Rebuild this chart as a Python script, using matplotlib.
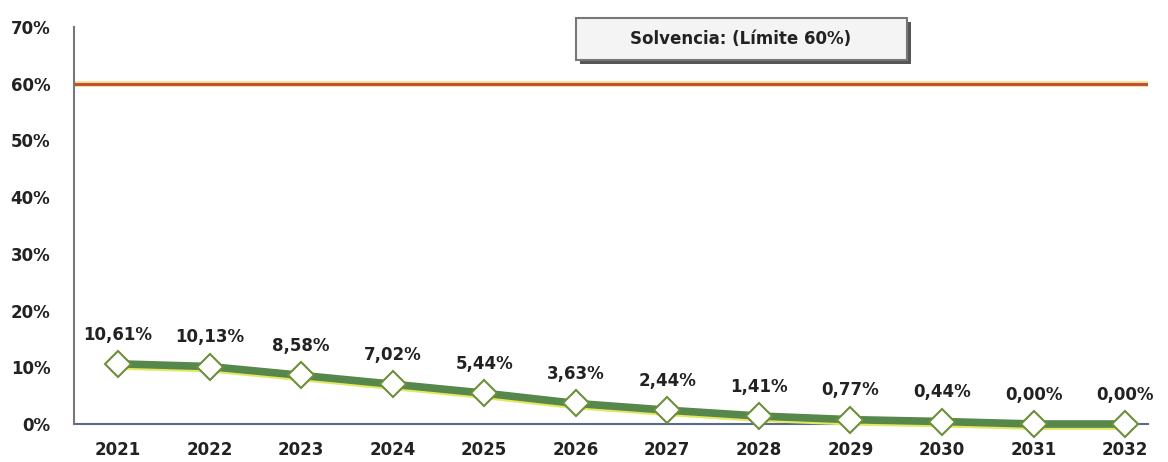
import matplotlib
matplotlib.use("Agg")
import matplotlib.pyplot as plt
import matplotlib.patheffects as pe
from matplotlib.patches import Rectangle

years = ["2021", "2022", "2023", "2024", "2025", "2026", "2027", "2028", "2029", "2030", "2031", "2032"]
solvencia = [10.61, 10.13, 8.58, 7.02, 5.44, 3.63, 2.44, 1.41, 0.77, 0.44, 0.00, 0.00]
limite = 60
yticks = [0, 10, 20, 30, 40, 50, 60, 70]

plt.rcParams['font.family'] = ['DejaVu Sans']

fig = plt.figure(figsize=(11.68, 4.62), dpi=100)
ax = fig.add_axes([74 / 1168, (462 - 424) / 462, (1148 - 74) / 1168, (424 - 27) / 462])

x = list(range(len(years)))

# linea del limite
ax.axhline(limite, color='#f2e080', lw=4, zorder=1)
ax.axhline(limite, color='#c0503a', lw=2.2, zorder=2)

# serie de solvencia (con sombra amarilla debajo)
ax.plot(x, solvencia, color='#55884a', lw=5.5, zorder=4, solid_capstyle='round', clip_on=False,
        path_effects=[pe.SimpleLineShadow(offset=(0, -1.5), shadow_color='#e4e860', alpha=1.0),
                      pe.Normal()])
ax.plot(x, solvencia, ls='none', zorder=5, clip_on=False,
        marker='D', markersize=13, markerfacecolor='white', markeredgecolor='#6b8f3a',
        markeredgewidth=1.5)

for xi, v in zip(x, solvencia):
    ax.annotate(f"{v:.2f}%".replace('.', ','), (xi, v), xytext=(0, 21),
                textcoords='offset points', ha='center', va='center',
                fontsize=12, fontweight='bold', color='#222222')

ax.set_xlim(-0.48, 11.25)
ax.set_ylim(0, 70)
ax.set_xticks(x)
ax.set_xticklabels(years, fontsize=12, fontweight='bold', color='#222222')
ax.set_yticks(yticks)
ax.set_yticklabels([f"{t}%" for t in yticks], fontsize=12, fontweight='bold', color='#222222')
ax.tick_params(axis='x', length=0, pad=12)
ax.tick_params(axis='y', length=0, pad=17)

for s in ['top', 'right']:
    ax.spines[s].set_visible(False)
ax.spines['left'].set_color('#777777')
ax.spines['left'].set_linewidth(1.5)
ax.spines['bottom'].set_color('#5a6a8a')
ax.spines['bottom'].set_linewidth(1.5)
ax.spines['bottom'].set_zorder(2)

# cuadro de la leyenda
box = Rectangle((576 / 1168, 1 - 60 / 462), 331 / 1168, 42 / 462, transform=fig.transFigure,
                facecolor='#f4f4f4', edgecolor='#777777', lw=1.5,
                path_effects=[pe.withSimplePatchShadow(offset=(3, -3), shadow_rgbFace='#444444', alpha=0.9)])
fig.patches.append(box)
fig.text(741 / 1168, 1 - 39 / 462, "Solvencia: (Límite 60%)", ha='center', va='center',
         fontsize=12, fontweight='bold', color='#222222')

fig.savefig("out.png", dpi=100)
